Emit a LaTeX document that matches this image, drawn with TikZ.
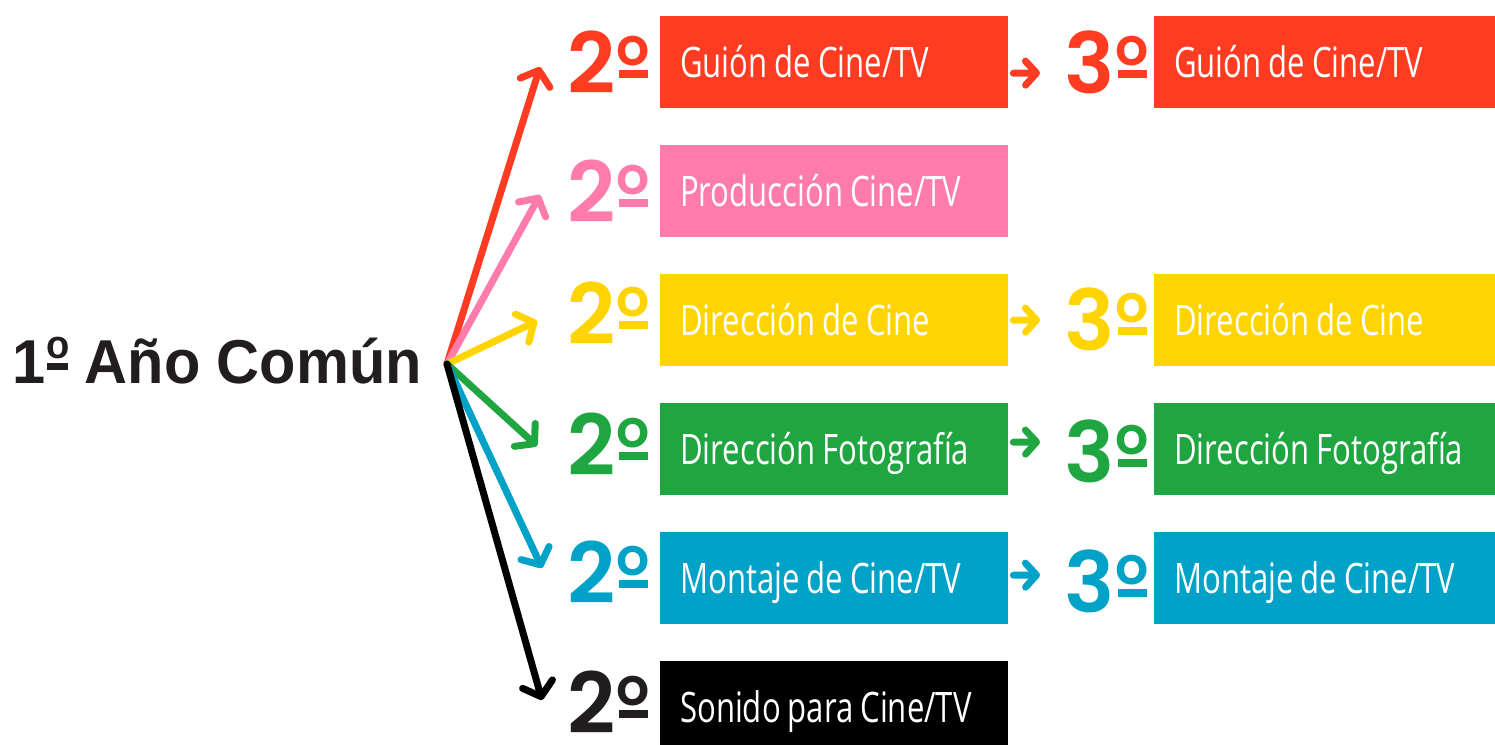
\documentclass[tikz,border=0pt]{standalone}
\usepackage{fontspec}
\usepackage{graphicx}
\usetikzlibrary{arrows.meta}
\setmainfont{Liberation Sans}
\newfontfamily\boxfont[FakeStretch=0.74]{Open Sans}
\newfontfamily\numfont{Poppins SemiBold}
\newfontfamily\titlefont[FakeStretch=0.96]{Liberation Sans}
% ordinal sign with underline, for the big numbers
\newcommand\ordo{\kern0.04em\rule[0.18em]{0.35em}{0.095em}\kern-0.35em\raisebox{0.325em}{\makebox[0.35em]{\scalebox{0.62}{o}}}}
% ordinal sign with underline, for the title
\newcommand\ordt{\kern0.03em\rule[0.21em]{0.34em}{0.11em}\kern-0.34em\raisebox{0.39em}{\makebox[0.34em]{\scalebox{0.64}{o}}}}
\newcommand\tightspace{\spaceskip=7pt\relax}
\definecolor{cred}{HTML}{FF3B22}
\definecolor{cpink}{HTML}{FF7BAC}
\definecolor{cyellow}{HTML}{FFD400}
\definecolor{cgreen}{HTML}{1FA641}
\definecolor{cblue}{HTML}{00A2C7}
\definecolor{cblack}{HTML}{000000}
\definecolor{cdark}{HTML}{221D1F}
\begin{document}
\begin{tikzpicture}[x=1pt,y=-1pt,
  box/.style={fill=#1, text=white, anchor=north west, inner xsep=20pt, inner ysep=0pt,
    text width=308pt, text height=31pt, text depth=0pt, minimum height=92pt, align=left,
    font=\boxfont\fontsize{42}{42}\selectfont, execute at begin node=\tightspace},
  num/.style={text=#1, anchor=base west, inner sep=0pt,
    font=\numfont\fontsize{84}{84}\selectfont},
  bigarrow/.style={draw=#1, line width=7pt, line cap=round,
    -{Straight Barb[length=13pt, width=31pt, round]}},
  smallarrow/.style={draw=#1, line width=7pt, line cap=round,
    -{Straight Barb[length=11pt, width=24pt, round]}}]
\clip (0,0) rectangle (1495,744);

% start
\node[anchor=base west, inner sep=0pt, text=cdark,
  font=\titlefont\bfseries\fontsize{62}{62}\selectfont] (start) at (12,383) {1\ordt{} Año Común};
\coordinate (hub) at (447,364);

% column 2 boxes
\node[box=cred]    (b2a) at (660,16)  {Guión de Cine/TV};
\node[box=cpink]   (b2b) at (660,145) {Producción Cine/TV};
\node[box=cyellow] (b2c) at (660,274) {Dirección de Cine};
\node[box=cgreen]  (b2d) at (660,403) {Dirección Fotografía};
\node[box=cblue]   (b2e) at (660,532) {Montaje de Cine/TV};
\node[box=cblack]  (b2f) at (660,661) {Sonido para Cine/TV};

% column 3 boxes
\node[box=cred, text width=301pt]    (b3a) at (1154,16)  {Guión de Cine/TV};
\node[box=cyellow, text width=301pt] (b3c) at (1154,274) {Dirección de Cine};
\node[box=cgreen, text width=301pt]  (b3d) at (1154,403) {Dirección Fotografía};
\node[box=cblue, text width=301pt]   (b3e) at (1154,532) {Montaje de Cine/TV};

% numbers 2º
\node[num=cred]    (n2a) at (567,93)  {2\ordo};
\node[num=cpink]   (n2b) at (567,222) {2\ordo};
\node[num=cyellow] (n2c) at (567,344) {2\ordo};
\node[num=cgreen]  (n2d) at (567,475) {2\ordo};
\node[num=cblue]   (n2e) at (567,603) {2\ordo};
\node[num=cdark]   (n2f) at (567,733) {2\ordo};

% numbers 3º
\node[num=cred]    (n3a) at (1064,93)  {3\ordo};
\node[num=cyellow] (n3c) at (1064,350) {3\ordo};
\node[num=cgreen]  (n3d) at (1064,482) {3\ordo};
\node[num=cblue]   (n3e) at (1064,612) {3\ordo};

% arrow tips
\coordinate (ta) at (540,67);
\coordinate (tb) at (540,195);
\coordinate (tc) at (537,321);
\coordinate (td) at (537,446);
\coordinate (te) at (542,568);
\coordinate (tf) at (542,700);

\draw[bigarrow=cred]    (hub) -- (ta);
\draw[bigarrow=cpink]   (hub) -- (tb);
\draw[bigarrow=cyellow] (hub) -- (tc);
\draw[bigarrow=cgreen]  (hub) -- (td);
\draw[bigarrow=cblue]   (hub) -- (te);
\draw[bigarrow=cblack]  (hub) -- (tf);

% small arrows
\coordinate (sa) at (1040,73);
\coordinate (sc) at (1040,320);
\coordinate (sd) at (1040,442);
\coordinate (se) at (1040,575);
\draw[smallarrow=cred]    ([xshift=5pt,yshift=-11pt]b2a.east) -- (sa);
\draw[smallarrow=cyellow] ([xshift=5pt]b2c.east) -- (sc);
\draw[smallarrow=cgreen]  ([xshift=5pt,yshift=7pt]b2d.east) -- (sd);
\draw[smallarrow=cblue]   ([xshift=5pt,yshift=3pt]b2e.east) -- (se);
\end{tikzpicture}
\end{document}
